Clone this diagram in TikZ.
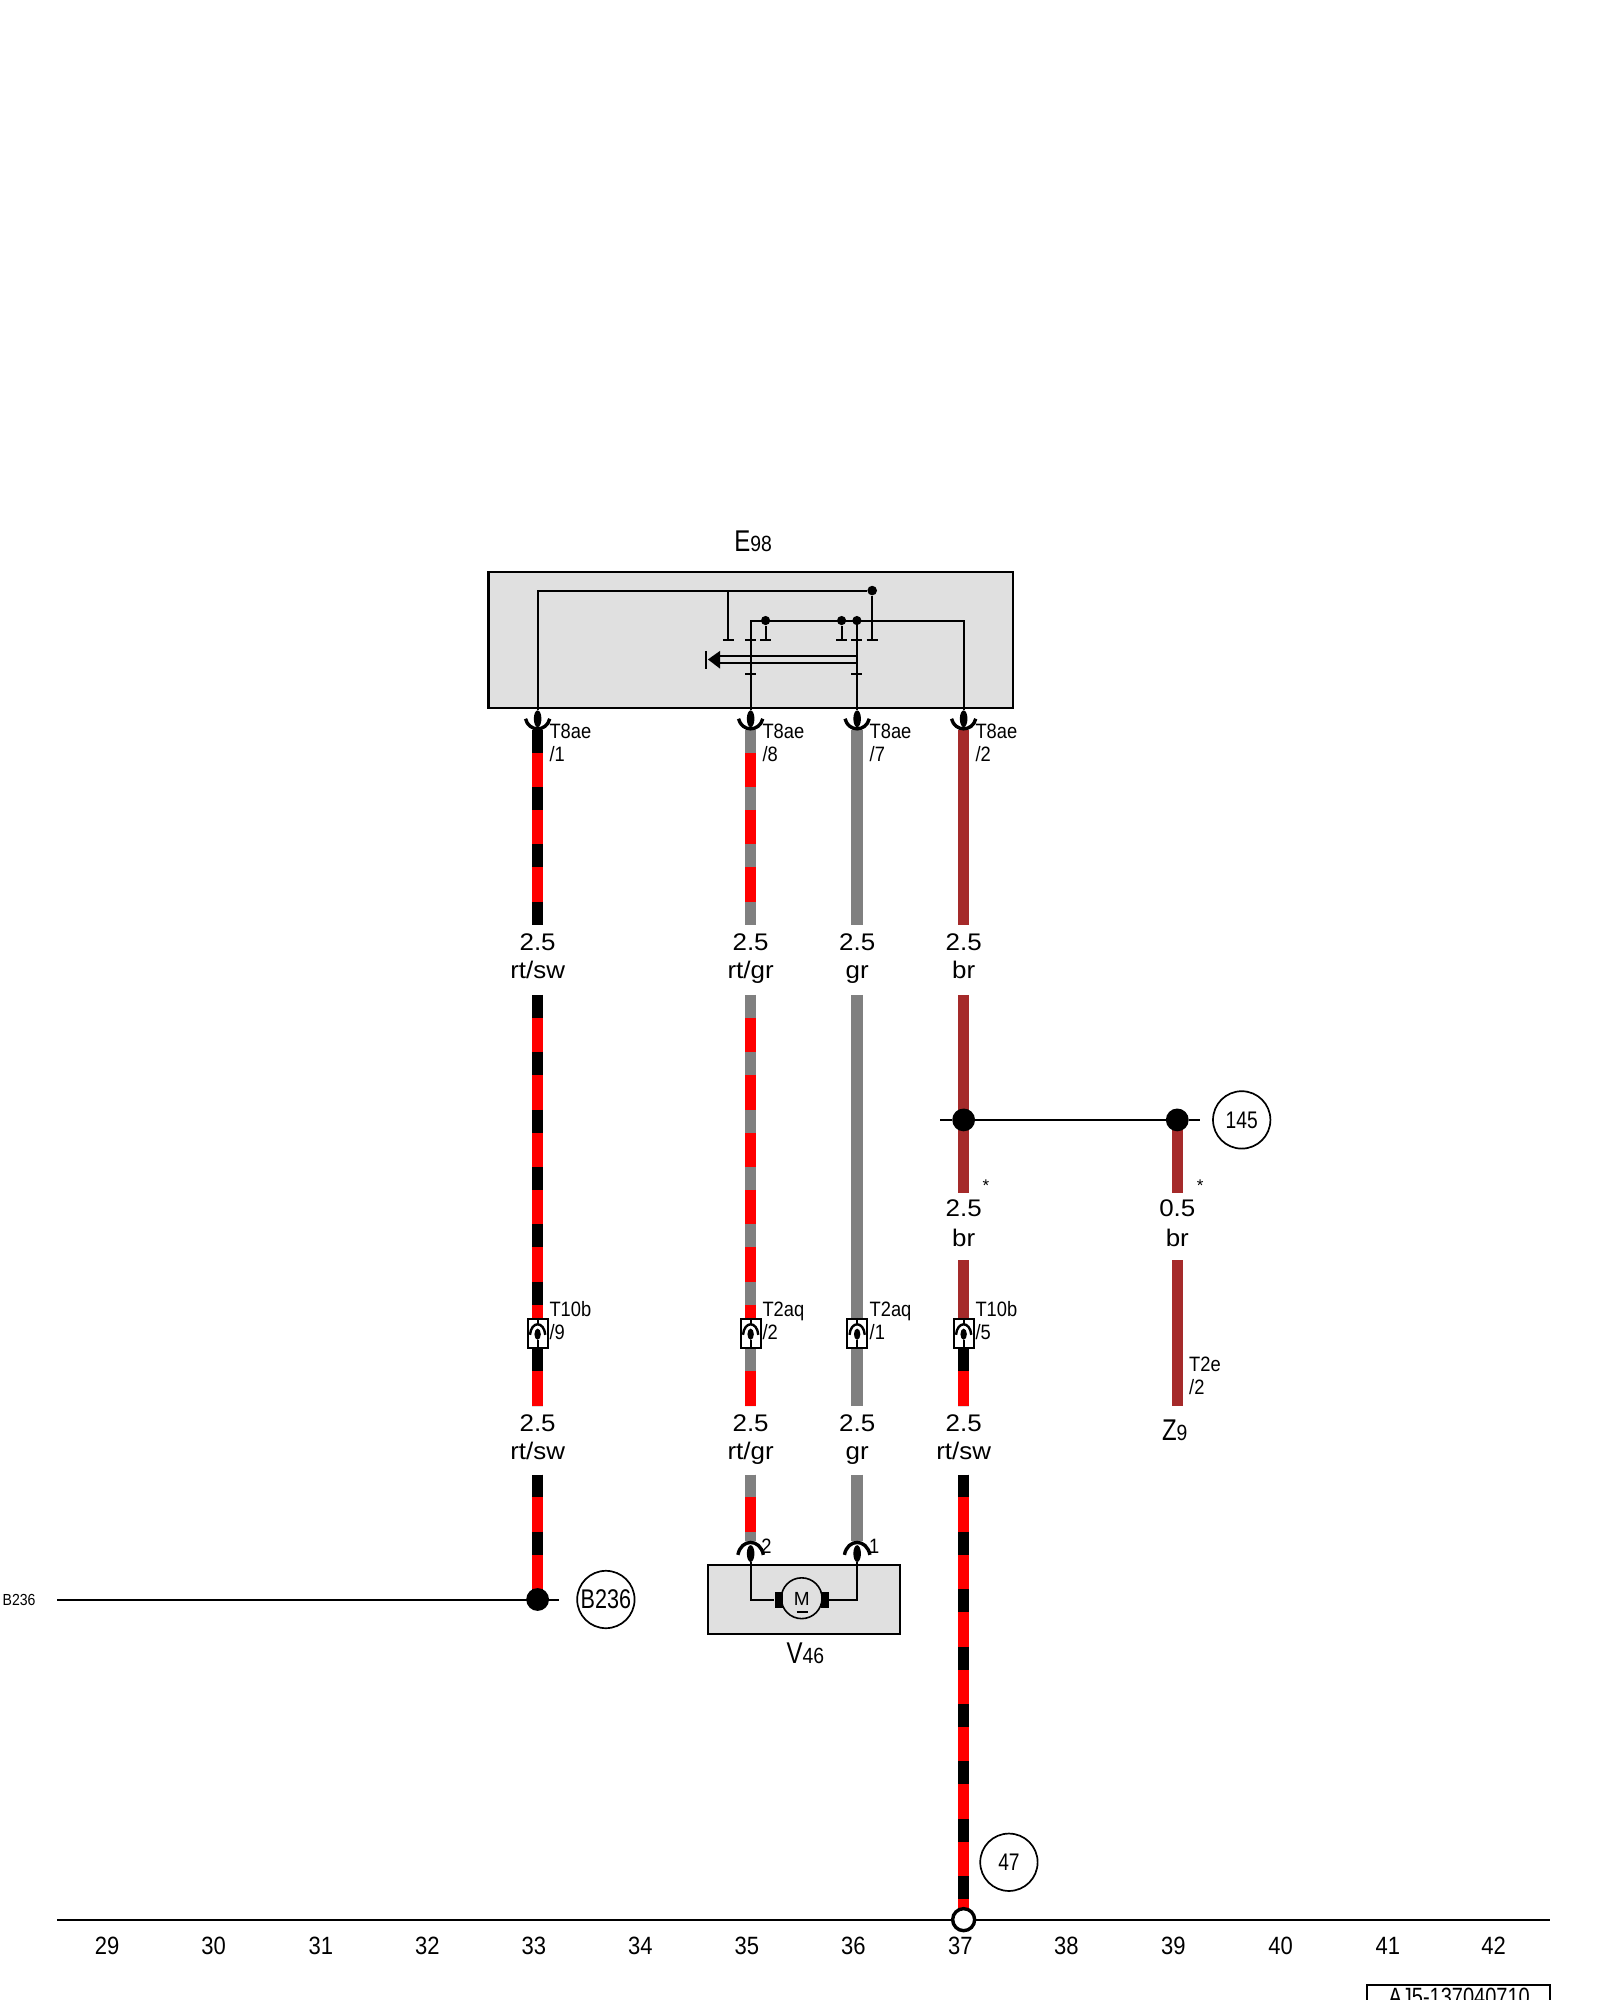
\documentclass[tikz,border=0pt]{standalone}
\usepackage{fontspec}
\setmainfont{Liberation Sans}
\newfontfamily\narrowf[FakeStretch=0.88]{Liberation Sans}
\newfontfamily\condf[FakeStretch=0.8]{Liberation Sans}
\newfontfamily\widef[FakeStretch=1.08]{Liberation Sans}
\definecolor{wred}{HTML}{FF0000}
\definecolor{wgray}{HTML}{808080}
\definecolor{wbrown}{HTML}{A52A2A}
\definecolor{boxgray}{HTML}{E0E0E0}
\usetikzlibrary{shapes.geometric}
\tikzset{
  wirebase/.style={line width=5.75pt},
  rtsw/.style={wirebase,draw=black,dash pattern=on 11.48pt off 17.22pt,preaction={draw=wred,solid,line width=5.75pt}},
  rtgr/.style={wirebase,draw=wgray,dash pattern=on 11.48pt off 17.22pt,preaction={draw=wred,solid,line width=5.75pt}},
  grw/.style={wirebase,draw=wgray},
  brw/.style={wirebase,draw=wbrown},
  thin line/.style={draw=black,line width=1.1pt},
  inner line/.style={draw=black,line width=1pt},
  gbox/.style={draw=black,line width=1.1pt,fill=boxgray},
  dot/.style={circle,fill=black,inner sep=0,minimum size=#1},
  refc/.style={circle,draw=black,line width=0.85pt,fill=white,inner sep=0,minimum size=28.7pt,font=\condf\fontsize{12}{12}\selectfont},
  lab/.style={inner sep=0,anchor=base west,font=\narrowf\fontsize{10.4}{10.4}\selectfont},
  sz/.style={inner sep=0,anchor=base,font=\widef\fontsize{12}{12}\selectfont},
  num/.style={inner sep=0,anchor=base,font=\narrowf\fontsize{12.5}{12.5}\selectfont},
  cup/.style={draw=black,line width=1.7pt},
  pin/.style={ellipse,fill=black,inner sep=0,minimum width=3.8pt,minimum height=8.4pt},
}
\newcommand{\bigsmall}[2]{{\condf\fontsize{15}{15}\selectfont #1}{\narrowf\fontsize{11}{11}\selectfont #2}}
\newcommand{\topconn}[2]{%
  \coordinate (#1s) at (#2,555);
  \node[pin] (#1p) at (#2,563.5) {};
  \draw[inner line] (#1s) -- (#1p);
  \draw[cup] (#2-9.5,563.5) .. controls (#2-7,574) and (#2+7,574) .. (#2+9.5,563.5);
}
\newcommand{\inlineconn}[2]{%
  \node[draw=black,line width=1pt,fill=white,inner sep=0,minimum width=9.9pt,minimum height=14.4pt] (#1b) at (#2,1045.3) {};
  \node[ellipse,fill=black,inner sep=0,minimum width=3.2pt,minimum height=5.6pt] (#1p) at (#2,1046) {};
  \draw[inner line] (#1p) -- (#1b.south);
  \draw[inner line] (#1b.north) -- (#2,1037.8);
  \draw[draw=black,line width=1.2pt] (#2-6,1046.5) .. controls (#2-5,1035.5) and (#2+5,1035.5) .. (#2+6,1046.5);
}
\begin{document}
\begin{tikzpicture}[x=0.6378pt,y=-0.6378pt]
\useasboundingbox (0,0) rectangle (1254.4,1568);
\clip (0,0) rectangle (1254.4,1568);

% E98 box
\node[gbox,inner sep=0,minimum width=262.1pt,minimum height=68.2pt] (e98) at (588.5,501.7) {};
\node[inner sep=0,anchor=base] (e98l) at (590.5,432) {\bigsmall{E}{98}};

% named wire ends
\foreach \n/\x in {a/421.5,b/588.5,c/672,d/755.5}{
  \coordinate (\n1) at (\x,572);
  \coordinate (\n2) at (\x,725);
  \coordinate (\n3) at (\x,780);
  \coordinate (\n4) at (\x,1034);
  \coordinate (\n5) at (\x,1057);
  \coordinate (\n6) at (\x,1102);
  \coordinate (\n7) at (\x,1156);
}
\coordinate (a8) at (421.5,1254);
\coordinate (b8) at (588.5,1208);
\coordinate (c8) at (672,1208);
\coordinate (d8) at (755.5,1505);
\coordinate (d9) at (755.5,935);
\coordinate (d10) at (755.5,988);
\coordinate (z1) at (923,878);
\coordinate (z2) at (923,935);
\coordinate (z3) at (923,988);
\coordinate (z4) at (923,1102);

% wires
\draw[rtsw] (a1)--(a2); \draw[rtsw] (a3)--(a4); \draw[rtsw] (a5)--(a6); \draw[rtsw] (a7)--(a8);
\draw[rtgr] (b1)--(b2); \draw[rtgr] (b3)--(b4); \draw[rtgr] (b5)--(b6); \draw[rtgr] (b7)--(b8);
\draw[grw] (c1)--(c2); \draw[grw] (c3)--(c4); \draw[grw] (c5)--(c6); \draw[grw] (c7)--(c8);
\draw[brw] (d1)--(d2); \draw[brw] (d3)--(d9); \draw[brw] (d10)--(d4);
\draw[rtsw] (d5)--(d6); \draw[rtsw] (d7)--(d8);
\draw[brw] (z1)--(z2); \draw[brw] (z3)--(z4);

% E98 internals
\node[dot=4.8pt] (i1) at (683.8,463) {};
\node[dot=4.6pt] (i2) at (600.2,486.5) {};
\node[dot=4.6pt] (i3) at (659.8,486.5) {};
\node[dot=4.6pt] (i4) at (671.8,486.5) {};
\coordinate (ia) at (421.5,463);
\coordinate (ib) at (421.5,555);
\coordinate (ic) at (571,463);
\coordinate (id) at (571,502);
\draw[inner line] (ib)--(ia)--(i1);
\draw[inner line] (ic)--(id);
\draw[inner line] (i1)--(683.8,502);
\draw[inner line] (588.5,555)--(588.5,486.5)--(755.5,486.5)--(755.5,555);
\draw[inner line] (671.8,486.5)--(671.8,555);
\draw[inner line] (i2)--(600.2,502);
\draw[inner line] (i3)--(659.8,502);
\foreach \x in {571,588.5,600.2,659.8,671.8,683.8}
  \draw[inner line] (\x-4.3,502)--(\x+4.3,502);
\foreach \x in {588.5,671.8}
  \draw[inner line] (\x-4.3,528.6)--(\x+4.3,528.6);
\draw[inner line] (671.8,514.2)--(563,514.2);
\draw[inner line] (671.8,519.4)--(563,519.4);
\fill[black] (555,517)--(564.5,510.3)--(564.5,524.2)--cycle;
\draw[inner line] (553.8,510.3)--(553.8,524.2);

% top connectors
\topconn{ta}{421.5}
\topconn{tb}{588.5}
\topconn{tc}{672}
\topconn{td}{755.5}
\node[lab] (la1) at (430.5,579) {T8ae};
\node[lab] (la2) at (430.5,597) {/1};
\node[lab] (lb1) at (597.5,579) {T8ae};
\node[lab] (lb2) at (597.5,597) {/8};
\node[lab] (lc1) at (681.5,579) {T8ae};
\node[lab] (lc2) at (681.5,597) {/7};
\node[lab] (ld1) at (764.5,579) {T8ae};
\node[lab] (ld2) at (764.5,597) {/2};

% size labels
\foreach \n/\x/\c in {a/421.5/rt\slash sw,b/588.5/rt\slash gr,c/672/gr}{
  \node[sz] (s\n1) at (\x,745) {2.5};
  \node[sz] (s\n2) at (\x,767) {\c};
  \node[sz] (s\n3) at (\x,1122) {2.5};
  \node[sz] (s\n4) at (\x,1144) {\c};
}
\node[sz] (sd1) at (755.5,745) {2.5};
\node[sz] (sd2) at (755.5,767) {br};
\node[sz] (sd3) at (755.5,954) {2.5};
\node[sz] (sd4) at (755.5,977) {br};
\node[sz] (sd5) at (755.5,1122) {2.5};
\node[sz] (sd6) at (755.5,1144) {rt\slash sw};
\node[sz] (sz1) at (923,954) {0.5};
\node[sz] (sz2) at (923,977) {br};
\node[inner sep=0,anchor=base,font=\fontsize{8.5}{8.5}\selectfont] (st1) at (773,934) {*};
\node[inner sep=0,anchor=base,font=\fontsize{8.5}{8.5}\selectfont] (st2) at (941,934) {*};

% branch
\node[dot=11.4pt] (j1) at (755.5,878) {};
\node[dot=11.4pt] (j2) at (923,878) {};
\coordinate (h1) at (737,878);
\coordinate (h2) at (941,878);
\draw[thin line] (h1)--(j1)--(j2)--(h2);
\node[refc] (c145) at (973.5,878) {145};

% inline connectors
\inlineconn{ia}{421.5}
\inlineconn{ib}{588.5}
\inlineconn{ic}{672}
\inlineconn{id}{755.5}
\node[lab] (m1) at (430.5,1032.5) {T10b};
\node[lab] (m2) at (430.5,1050.5) {/9};
\node[lab] (m3) at (597.5,1032.5) {T2aq};
\node[lab] (m4) at (597.5,1050.5) {/2};
\node[lab] (m5) at (681.5,1032.5) {T2aq};
\node[lab] (m6) at (681.5,1050.5) {/1};
\node[lab] (m7) at (764.5,1032.5) {T10b};
\node[lab] (m8) at (764.5,1050.5) {/5};
\node[lab] (m9) at (932,1075) {T2e};
\node[lab] (m10) at (932,1093) {/2};
\node[inner sep=0,anchor=base] (z9) at (921,1129) {\bigsmall{Z}{9}};

% B236
\node[dot=11.4pt] (j3) at (421.5,1254) {};
\coordinate (g1) at (45,1254.4);
\coordinate (g2) at (438,1254.4);
\draw[thin line] (g1)--(g2);
\node[refc,font=\condf\fontsize{13.5}{13.5}\selectfont] (c236) at (475,1254) {B236};
\node[inner sep=0,anchor=base,font=\narrowf\fontsize{8}{8}\selectfont] (b236) at (15,1259) {B236};

% V46
\node[gbox,inner sep=0,minimum width=96pt,minimum height=34.5pt] (v46) at (630.2,1254) {};
\node[inner sep=0,anchor=base] (v46l) at (631.5,1304) {\bigsmall{V}{46}};
\node[circle,draw=black,line width=0.8pt,inner sep=0,minimum size=20.4pt] (mot) at (628.5,1253) {};
\node[inner sep=0,anchor=base,font=\fontsize{9.5}{9.5}\selectfont] (ml) at (628.5,1258.5) {M};
\draw[line width=0.8pt] (624.5,1264)--(633.6,1264);
\node[fill=black,inner sep=0,minimum width=4.2pt,minimum height=8pt] (bl) at (610.7,1254) {};
\node[fill=black,inner sep=0,minimum width=4.2pt,minimum height=8pt] (br) at (646.6,1254) {};
\node[pin] (p1) at (588.5,1218) {};
\node[pin] (p2) at (672,1218) {};
\draw[inner line] (p1)--(588.5,1254)--(bl);
\draw[inner line] (p2)--(672,1254)--(br);
\draw[cup] (578.5,1219) .. controls (581,1206) and (596,1206) .. (598.5,1219);
\draw[cup] (662,1219) .. controls (664.5,1206) and (679.5,1206) .. (682,1219);
\node[lab] (n2) at (596.5,1218) {2};
\node[lab] (n1) at (681,1218) {1};

% 47 and base line
\node[refc] (c47) at (791,1460) {47};
\coordinate (l1) at (45,1505);
\coordinate (l2) at (1215,1505);
\draw[thin line] (l1)--(l2);
\node[circle,draw=black,line width=1.7pt,fill=white,inner sep=0,minimum size=11pt] (gnd) at (755.5,1505) {};
\foreach \t/\x in {29/84,30/167.5,31/251.5,32/335,33/418.5,34/502,35/585.5,36/669,37/753,38/836,39/920,40/1004,41/1088,42/1171}
  \node[num] (t\t) at (\x,1532) {\t};

% reference box
\draw[thin line] (1072,1575)--(1072,1556)--(1215,1556)--(1215,1575);
\node[inner sep=0,anchor=base,font=\condf\fontsize{12.5}{12.5}\selectfont] (ref) at (1144,1572) {AJ5-137040710};
\end{tikzpicture}
\end{document}
